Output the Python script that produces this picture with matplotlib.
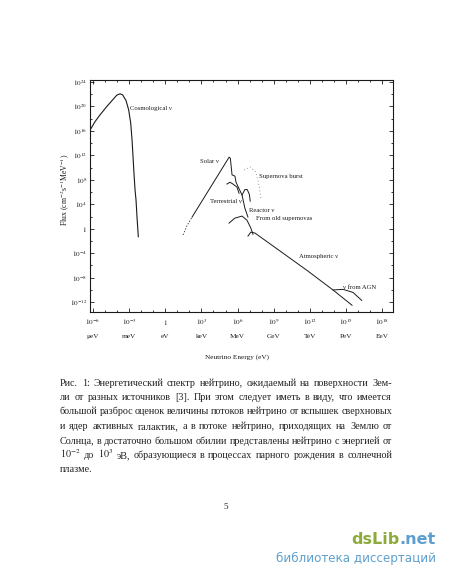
import matplotlib
matplotlib.use("Agg")
import matplotlib.pyplot as plt
import numpy as np

plt.rcParams['font.family'] = ['Liberation Serif', 'DejaVu Serif']
plt.rcParams['mathtext.fontset'] = 'stix'

# log10(E / eV), log10(flux)
cosmo_E = [-6.25, -5.83, -5.42, -4.86, -4.32, -4.03, -3.76, -3.54, -3.26, -3.04,
           -2.87, -2.76, -2.68, -2.6, -2.51, -2.43, -2.35, -2.24]
cosmo_F = [16.1, 17.5, 18.6, 19.96, 21.17, 21.82, 22.04, 21.87, 20.94, 19.42,
           17.24, 14.5, 11.8, 9.06, 6.3, 4.7, 1.95, -1.3]

solar_dot_E = [1.47, 1.8, 2.22]
solar_dot_F = [-1.0, 0.5, 1.9]
solar_E = [2.22, 5.3, 5.4, 5.54, 5.78, 5.87, 6.37, 6.6, 6.86]
solar_F = [1.9, 11.7, 11.5, 8.8, 8.6, 7.6, 5.5, 3.4, 1.9]

terr_E = [5.12, 5.37, 5.62, 5.95, 6.12]
terr_F = [7.3, 7.6, 7.3, 6.8, 5.8]

sn_E = [6.53, 7.03, 7.5, 7.78, 7.94]
sn_F = [9.6, 10.1, 9.3, 7.1, 5.0]

reac_E = [6.37, 6.6, 6.8, 6.98, 7.05]
reac_F = [5.5, 6.4, 6.4, 5.6, 4.5]

relic_E = [5.29, 5.78, 6.37, 6.78, 7.1, 7.28]
relic_F = [0.92, 1.74, 2.07, 1.4, 0.1, -0.9]

atm_E = [6.86, 7.1, 7.44, 9.0, 11.76, 13.92, 15.5]
atm_F = [-1.2, -0.55, -0.7, -2.9, -6.8, -10.0, -12.5]

agn_E = [13.92, 14.75, 15.58, 16.3]
agn_F = [-10.0, -9.9, -10.4, -11.7]

x_major = list(range(-6, 19, 3))
x_nums = ['$10^{-6}$', '$10^{-3}$', '$1$', '$10^{3}$', '$10^{6}$', '$10^{9}$',
          '$10^{12}$', '$10^{15}$', '$10^{18}$']
x_units = ['\u03bceV', 'meV', 'eV', 'keV', 'MeV', 'GeV', 'TeV', 'PeV', 'EeV']
y_major = list(range(24, -13, -4))
y_nums = ['$10^{24}$', '$10^{20}$', '$10^{16}$', '$10^{12}$', '$10^{8}$', '$10^{4}$',
          '$1$', '$10^{-4}$', '$10^{-8}$', '$10^{-12}$']

# (text, log10 E, log10 F) for curve labels
labels = [
    ('Cosmological \u03bd', -2.9, 19.6),
    ('Solar \u03bd', 2.9, 11.0),
    ('Supernova burst', 7.8, 8.6),
    ('Terrestrial \u03bd', 3.75, 4.5),
    ('Reactor \u03bd', 6.95, 3.0),
    ('From old supernovas', 7.5, 1.75),
    ('Atmospheric \u03bd', 11.1, -4.5),
    ('\u03bd from AGN', 14.75, -9.6),
]

caption = [
    'Рис. 1:  Энергетический спектр нейтрино, ожидаемый на поверхности Зем-',
    'ли от разных источников [3]. При этом следует иметь в виду, что имеется',
    'большой разброс оценок величины потоков нейтрино от вспышек сверхновых',
    'и ядер активных галактик, а в потоке нейтрино, приходящих на Землю от',
    'Солнца, в достаточно большом обилии представлены нейтрино с энергией от',
    '$10^{-2}$ до $10^{3}$ эВ, образующиеся в процессах парного рождения в солнечной',
    'плазме.',
]

W, H = 450, 578
fig = plt.figure(figsize=(4.5, 5.78), dpi=100)
ax = fig.add_axes([90 / W, 1 - 312 / H, 303 / W, 232 / H])
ax.set_xscale('log')
ax.set_yscale('log')

ink = '#1a1a1a'
p = lambda a: 10.0 ** np.array(a)
ax.plot(p(cosmo_E), p(cosmo_F), color=ink, lw=0.8)
ax.plot(p(solar_dot_E), p(solar_dot_F), color=ink, lw=0.6, ls=(0, (1.5, 2)))
ax.plot(p(solar_E), p(solar_F), color=ink, lw=0.7)
ax.plot(p(terr_E), p(terr_F), color=ink, lw=0.7)
ax.plot(p(sn_E), p(sn_F), color='#777777', lw=0.6, ls=(0, (1, 3)))
ax.plot(p(reac_E), p(reac_F), color=ink, lw=0.7)
ax.plot(p(relic_E), p(relic_F), color=ink, lw=0.7)
ax.plot(p(atm_E), p(atm_F), color=ink, lw=0.7)
ax.plot(p(agn_E), p(agn_F), color=ink, lw=0.7)

for t, e, f in labels:
    ax.text(10 ** e, 10 ** f, t, fontsize=4.8, ha='left', va='center', color=ink)

ax.set_xlim(10 ** -6.25, 10 ** 18.9)
ax.set_ylim(10 ** -13.6, 10 ** 24.3)
ax.set_xticks([10.0 ** k for k in x_major])
ax.set_xticklabels(x_nums)
ax.set_xticks([10.0 ** k for k in range(-6, 19)], minor=True)
ax.set_xticklabels([], minor=True)
ax.set_yticks([10.0 ** k for k in y_major])
ax.set_yticklabels(y_nums)
ax.set_yticks([10.0 ** k for k in range(-12, 25, 2)], minor=True)
ax.set_yticklabels([], minor=True)
ax.tick_params(which='both', direction='in', top=True, right=True, colors=ink,
               labelsize=5.2, width=0.6)
ax.tick_params(which='major', length=3.2)
ax.tick_params(which='minor', length=1.6)
ax.tick_params(axis='x', pad=4)
ax.tick_params(axis='y', pad=2)
for s in ax.spines.values():
    s.set_linewidth(0.8)
    s.set_color(ink)

trans = ax.get_xaxis_transform()
for k, u in zip(x_major, x_units):
    ax.text(10.0 ** k, -0.107, u, transform=trans, ha='center', va='center',
            fontsize=5.2, color=ink)

fig.text(237 / W, 1 - 357 / H, 'Neutrino Energy (eV)', ha='center', va='center',
         fontsize=5.2, color=ink)
fig.text(65 / W, 1 - 190 / H, 'Flux (cm$^{-2}$s$^{-1}$MeV$^{-1}$)', rotation=90,
         ha='center', va='center', fontsize=5.6, color=ink)

# caption, justified between x=60 and x=392
renderer = fig.canvas.get_renderer()
x0, x1 = 60, 392


def word_widths(fs):
    out = []
    for line in caption:
        row = []
        for w in line.split():
            t = fig.text(0, 0, w, fontsize=fs)
            row.append(t.get_window_extent(renderer).width)
            t.remove()
        out.append(row)
    return out


# pick the size at which the tightest line still keeps a small word space
probe = word_widths(10.0)
cap_fs = 10.0
for row in probe[:-1]:
    n = len(row) - 1
    need = sum(row) + n * 0.14 * 10 * 1.389
    cap_fs = min(cap_fs, 10.0 * (x1 - x0) / need)

for i, line in enumerate(caption):
    yb = 1 - (385.5 + 14.5 * i) / H
    words = line.split()
    objs = [fig.text(0, yb, w, fontsize=cap_fs, va='baseline', ha='left', color='#222222')
            for w in words]
    widths = [o.get_window_extent(renderer).width for o in objs]
    if i < len(caption) - 1:
        gap = (x1 - x0 - sum(widths)) / (len(words) - 1)
    else:
        gap = 0.27 * cap_fs * 1.389
    x = x0
    for o, w in zip(objs, widths):
        o.set_x(x / W)
        x += w + gap

fig.text(226 / W, 1 - 507 / H, '5', ha='center', va='center', fontsize=6.5, color='#222222')

# watermark
wm1 = fig.text(0, 1 - 540 / H, 'dsLib', fontsize=11.5, fontweight='bold',
               family='DejaVu Sans', color='#8cab3a', va='center', ha='left')
wm2 = fig.text(436 / W, 1 - 540 / H, '.net', fontsize=11.5, fontweight='bold',
               family='DejaVu Sans', color='#5e9fcf', va='center', ha='right')
w2 = wm2.get_window_extent(renderer).width
w1 = wm1.get_window_extent(renderer).width
wm1.set_x((436 - w2 - w1) / W)
fig.text(436 / W, 1 - 558 / H, 'библиотека диссертаций', fontsize=8.6,
         family='DejaVu Sans', color='#5e9fcf', va='center', ha='right')

fig.savefig('out.png', dpi=100)
